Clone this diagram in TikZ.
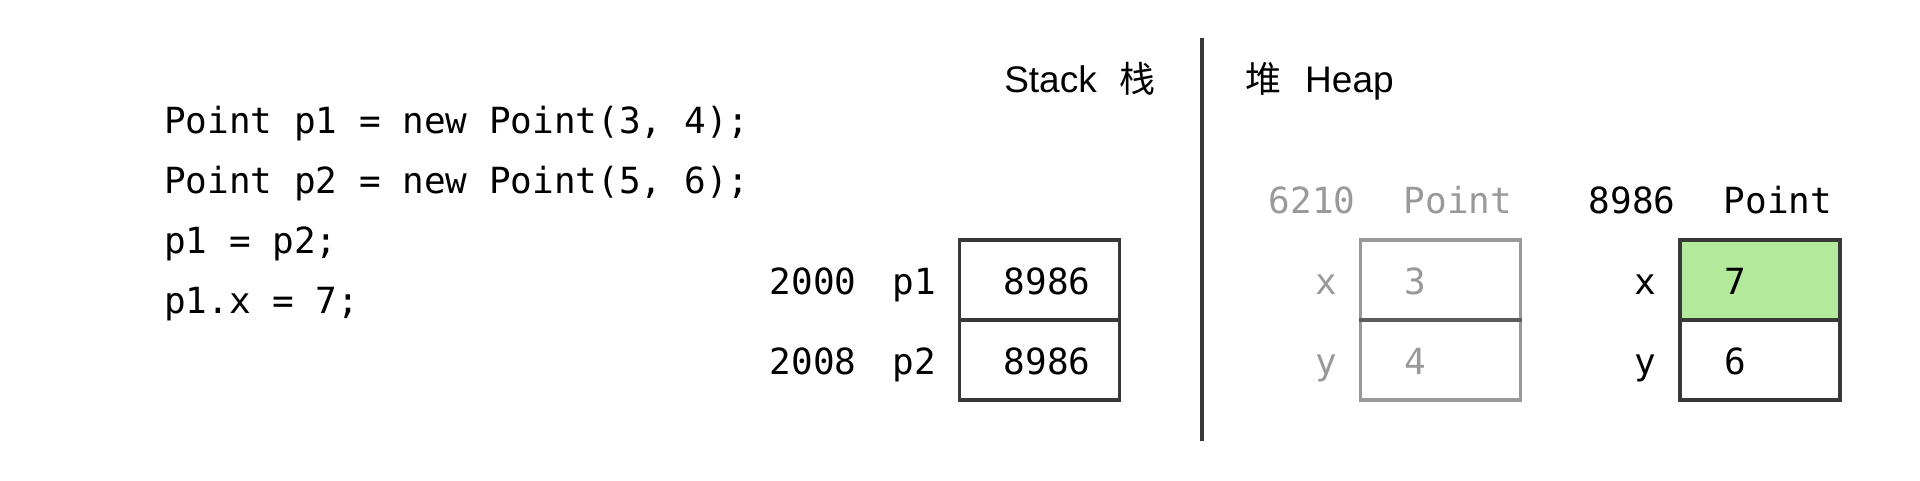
\documentclass[tikz,border=0pt]{standalone}
\usepackage{fontspec}
\setmainfont{Liberation Sans}
\newfontfamily\monof{DejaVu Sans Mono}
\newfontfamily\cjk{Noto Sans CJK SC}
\definecolor{boxc}{HTML}{383838}
\definecolor{greyc}{HTML}{999999}
\definecolor{greenc}{HTML}{B3E99B}
\begin{document}
\begin{tikzpicture}[x=1pt,y=-1pt,
  code/.style={font=\monof\fontsize{36}{36}\selectfont, inner sep=0pt, anchor=base west},
  mono/.style={font=\monof\fontsize{36}{36}\selectfont, inner sep=0pt, anchor=base},
  title/.style={font=\fontsize{37}{37}\selectfont, inner sep=0pt},
  cell/.style={draw=boxc, line width=3.3pt, minimum height=80pt, minimum width=160pt, inner sep=0pt},
  gcell/.style={draw=black, draw opacity=0.4, line width=3.3pt, minimum height=80pt, minimum width=160pt, inner sep=0pt},
  faded/.style={text=greyc}]
\useasboundingbox (0,0) rectangle (1920,480);
% code
\node[code] (c1) at (164,133) {Point p1 = new Point(3, 4);};
\node[code] (c2) at (164,193) {Point p2 = new Point(5, 6);};
\node[code] (c3) at (164,253) {p1 = p2;};
\node[code] (c4) at (164,313) {p1.x = 7;};
% titles
\node[title, anchor=base east] (st) at (1156,92) {Stack\hspace{23pt}{\cjk\fontsize{36}{36}\selectfont 栈}};
\node[title, anchor=base west] (hp) at (1245,92) {{\cjk\fontsize{36}{36}\selectfont 堆}\hspace{24pt}Heap};
% divider
\coordinate (dtop) at (1202,38);
\coordinate (dbot) at (1202,441);
\draw[boxc, line width=3.3pt] (dtop) -- (dbot);
% stack
\node[cell] (s1) at (1039.5,280) {};
\node[cell] (s2) at (1039.5,360) {};
\node[mono] (a1) at (813,294) {2000};
\node[mono] (n1) at (914,294) {p1};
\node[mono] (v1) at (1047,294) {8986};
\node[mono] (a2) at (813,374) {2008};
\node[mono] (n2) at (914,374) {p2};
\node[mono] (v2) at (1047,374) {8986};
% heap, old object
\node[mono, faded] (ha) at (1312,213) {6210};
\node[mono, faded] (ht) at (1458,213) {Point};
\node[gcell] (h1) at (1440.5,280) {};
\node[gcell] (h2) at (1440.5,360) {};
\node[mono, faded] (hx) at (1326,294) {x};
\node[mono, faded] (hxv) at (1415,294) {3};
\node[mono, faded] (hy) at (1326,374) {y};
\node[mono, faded] (hyv) at (1415,374) {4};
% heap, live object
\node[mono] (ka) at (1632,213) {8986};
\node[mono] (kt) at (1778,213) {Point};
\node[cell, fill=greenc] (k1) at (1760,280) {};
\node[cell] (k2) at (1760,360) {};
\node[mono] (kx) at (1645,294) {x};
\node[mono] (kxv) at (1735,294) {7};
\node[mono] (ky) at (1645,374) {y};
\node[mono] (kyv) at (1735,374) {6};
\end{tikzpicture}
\end{document}
